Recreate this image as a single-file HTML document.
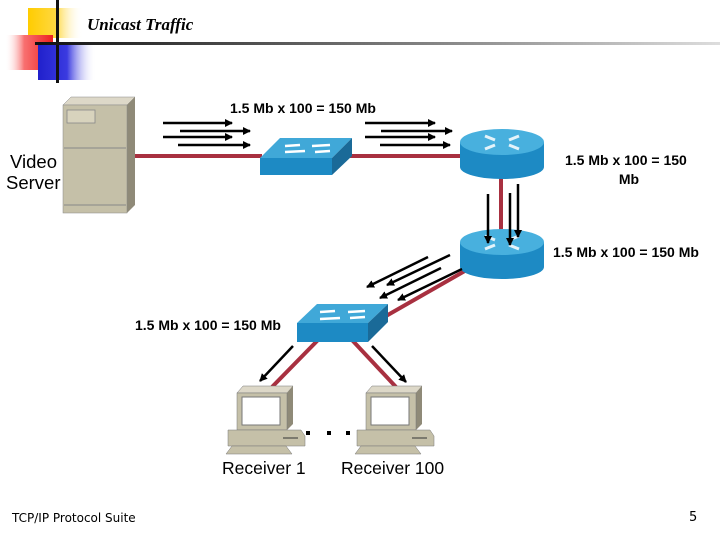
<!DOCTYPE html>
<html><head><meta charset="utf-8"><style>
html,body{margin:0;padding:0;background:#fff;}
svg{display:block;}
.l{font-family:"Liberation Sans",Arial,sans-serif;font-weight:bold;font-size:14px;fill:#000;}
</style></head><body>
<svg width="720" height="540" viewBox="0 0 720 540" xmlns="http://www.w3.org/2000/svg">
<defs>
<linearGradient id="gy" x1="0" x2="1"><stop offset="0" stop-color="#ffcc00"/><stop offset="0.5" stop-color="#ffd840"/><stop offset="1" stop-color="#fff" stop-opacity="0"/></linearGradient>
<linearGradient id="gr" x1="1" x2="0"><stop offset="0" stop-color="#ee2020"/><stop offset="0.6" stop-color="#f87070"/><stop offset="1" stop-color="#fff" stop-opacity="0"/></linearGradient>
<linearGradient id="gb" x1="0" x2="1"><stop offset="0" stop-color="#2020cc"/><stop offset="0.5" stop-color="#3a3ae0"/><stop offset="1" stop-color="#fff" stop-opacity="0"/></linearGradient>
<linearGradient id="gl" x1="0" x2="1"><stop offset="0" stop-color="#111"/><stop offset="0.6" stop-color="#888"/><stop offset="1" stop-color="#ddd"/></linearGradient>
<marker id="ah" markerWidth="8" markerHeight="8" refX="7" refY="4" orient="auto" markerUnits="userSpaceOnUse"><path d="M0,0 L8,4 L0,8 z" fill="#000"/></marker>
</defs>
<rect x="28" y="8" width="55" height="30" fill="url(#gy)"/>
<rect x="5" y="35" width="48" height="35" fill="url(#gr)"/>
<rect x="38" y="45" width="58" height="35" fill="url(#gb)"/>
<rect x="56" y="0" width="3" height="83" fill="#111"/>
<rect x="35" y="42" width="685" height="3" fill="url(#gl)"/>
<text x="87" y="30" font-family="Liberation Serif,serif" font-style="italic" font-weight="bold" font-size="17">Unicast Traffic</text>

<g stroke="#a83040" stroke-width="4" fill="none">
<line x1="135" y1="156" x2="262" y2="156"/>
<line x1="350" y1="156" x2="462" y2="156"/>
<line x1="501" y1="178" x2="501" y2="232"/>
<line x1="470" y1="268" x2="386" y2="316"/>
<line x1="318" y1="340" x2="272" y2="387"/>
<line x1="352" y1="340" x2="396" y2="387"/>
</g>

<polygon points="63,105 71,97 135,97 127,105" fill="#ddd8c8" stroke="#888" stroke-width="0.5"/>
<polygon points="127,105 135,97 135,205 127,213" fill="#8f8a78"/>
<rect x="63" y="105" width="64" height="108" fill="#c5c0a8" stroke="#888" stroke-width="0.5"/>
<rect x="67" y="110" width="28" height="13" fill="#d8d3bd" stroke="#888" stroke-width="0.8"/>
<line x1="64" y1="148" x2="126" y2="148" stroke="#888"/>
<line x1="64" y1="205" x2="126" y2="205" stroke="#888"/>

<polygon points="260,158 280,138 352,138 332,158" fill="#40a8d8"/>
<polygon points="332,158 352,138 352,156 332,175" fill="#1a6a98"/>
<rect x="260" y="158" width="72" height="17" fill="#1d8ac4"/>
<g stroke="#fff" stroke-width="2.5"><line x1="300" y1="145" x2="285" y2="146"/><line x1="312" y1="146" x2="330" y2="145"/><line x1="305" y1="151" x2="285" y2="152"/><line x1="315" y1="152" x2="330" y2="151"/></g>
<polygon points="297,323 317,304 388,304 368,323" fill="#40a8d8"/>
<polygon points="368,323 388,304 388,322 368,342" fill="#1a6a98"/>
<rect x="297" y="323" width="71" height="19" fill="#1d8ac4"/>
<g stroke="#fff" stroke-width="2.5"><line x1="335" y1="311" x2="320" y2="312"/><line x1="348" y1="312" x2="365" y2="311"/><line x1="340" y1="318" x2="320" y2="319"/><line x1="350" y1="318" x2="365" y2="317"/></g>

<g>
<rect x="460" y="142" width="84" height="25" fill="#1d8ac4"/>
<ellipse cx="502" cy="167" rx="42" ry="12" fill="#1d8ac4"/>
<ellipse cx="502" cy="142" rx="42" ry="13" fill="#48b0de"/>
<g stroke="#fff" stroke-width="3" opacity="0.85"><line x1="485" y1="136" x2="495" y2="140"/><line x1="519" y1="136" x2="509" y2="140"/><line x1="485" y1="149" x2="495" y2="145"/><line x1="519" y1="149" x2="509" y2="145"/></g>
</g>
<g>
<rect x="460" y="242" width="84" height="25" fill="#1d8ac4"/>
<ellipse cx="502" cy="267" rx="42" ry="12" fill="#1d8ac4"/>
<ellipse cx="502" cy="242" rx="42" ry="13" fill="#48b0de"/>
<g stroke="#fff" stroke-width="3" opacity="0.85"><line x1="485" y1="236" x2="495" y2="240"/><line x1="519" y1="236" x2="509" y2="240"/><line x1="485" y1="249" x2="495" y2="245"/><line x1="519" y1="249" x2="509" y2="245"/></g>
</g>

<g id="pc">
<polygon points="237,393 243,386 293,386 287,393" fill="#ddd8c8" stroke="#777" stroke-width="0.5"/>
<polygon points="287,393 293,386 293,424 287,430" fill="#8f8a78"/>
<rect x="237" y="393" width="50" height="37" fill="#c5c0a8" stroke="#777" stroke-width="0.5"/>
<rect x="242" y="397" width="38" height="28" fill="#fff" stroke="#777"/>
<polygon points="228,430 301,430 305,436 305,446 228,446" fill="#c5c0a8" stroke="#777" stroke-width="0.5"/>
<line x1="283" y1="438" x2="298" y2="438" stroke="#333"/>
<polygon points="232,446 286,446 292,454 226,454" fill="#c5c0a8" stroke="#777" stroke-width="0.5"/>
</g>
<use href="#pc" x="129"/>
<g fill="#000"><rect x="306" y="431" width="4" height="4"/><rect x="327" y="431" width="4" height="4"/><rect x="346" y="431" width="4" height="4"/></g>

<g stroke="#000" stroke-width="2.5" marker-end="url(#ah)">
<line x1="163" y1="123" x2="232" y2="123"/><line x1="180" y1="131" x2="250" y2="131"/>
<line x1="163" y1="137" x2="232" y2="137"/><line x1="178" y1="145" x2="250" y2="145"/>
<line x1="365" y1="123" x2="435" y2="123"/><line x1="381" y1="131" x2="452" y2="131"/>
<line x1="365" y1="137" x2="435" y2="137"/><line x1="380" y1="145" x2="450" y2="145"/>
<line x1="488" y1="194" x2="488" y2="243"/><line x1="510" y1="193" x2="510" y2="245"/><line x1="518" y1="184" x2="518" y2="237"/>
<line x1="428" y1="257" x2="367" y2="287"/><line x1="450" y1="255" x2="387" y2="285"/>
<line x1="441" y1="268" x2="380" y2="298"/><line x1="462" y1="269" x2="398" y2="300"/>
<line x1="293" y1="346" x2="260" y2="381"/><line x1="372" y1="346" x2="406" y2="382"/>
</g>

<text class="l" x="230" y="113">1.5 Mb x 100 = 150 Mb</text>
<text class="l" x="565" y="165">1.5 Mb x 100 = 150</text>
<text class="l" x="629" y="184" text-anchor="middle">Mb</text>
<text class="l" x="553" y="257">1.5 Mb x 100 = 150 Mb</text>
<text class="l" x="135" y="330">1.5 Mb x 100 = 150 Mb</text>
<text class="l" x="10" y="168" style="font-size:18.5px;font-weight:normal">Video</text>
<text class="l" x="6" y="189" style="font-size:18.5px;font-weight:normal">Server</text>
<text class="l" x="222" y="474" style="font-size:17.5px;font-weight:normal">Receiver 1</text>
<text class="l" x="341" y="474" style="font-size:17.5px;font-weight:normal">Receiver 100</text>
<text x="12" y="522" font-family="DejaVu Sans,sans-serif" font-size="12">TCP/IP Protocol Suite</text>
<text x="689" y="521" font-family="DejaVu Sans,sans-serif" font-size="13">5</text>
</svg>
</body></html>
